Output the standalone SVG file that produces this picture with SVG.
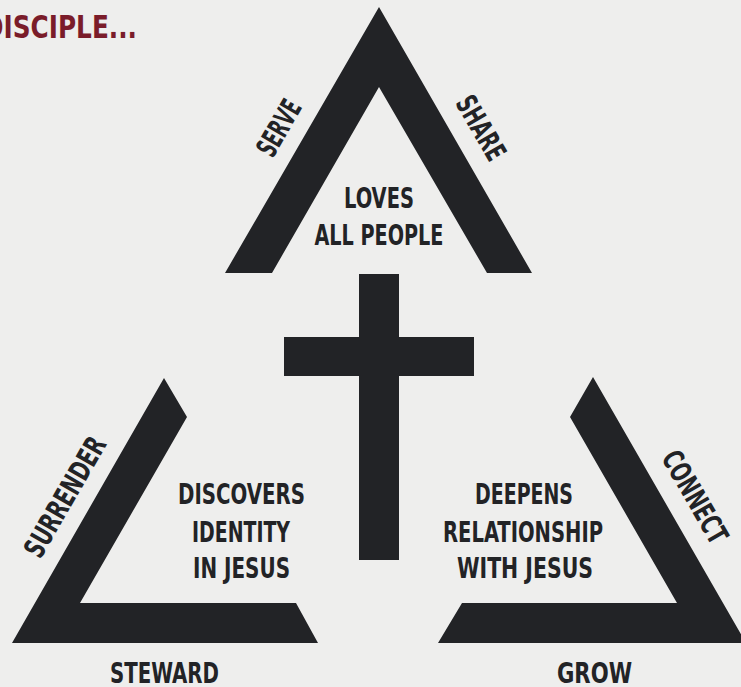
<svg xmlns="http://www.w3.org/2000/svg" width="741" height="687" viewBox="0 0 741 687">
<style>
.shape{fill:#222326}
.lbl{font-family:"DejaVu Sans Condensed","Liberation Sans Narrow","Liberation Sans",sans-serif;font-stretch:condensed;font-weight:bold;font-size:29px;fill:#222326;text-anchor:middle}
.title{font-family:"DejaVu Sans","Liberation Sans",sans-serif;font-weight:bold;font-size:32px;fill:#7a1c2a}
</style>
<rect width="741" height="687" fill="#eeeeed"/>
<text class="title" x="-17" y="38" textLength="154" lengthAdjust="spacingAndGlyphs">DISCIPLE...</text>
<g id="top">
<polygon class="shape" points="379,7 532,273 487,273 379,87 272,273 225,273"/>
<text class="lbl" x="379" y="208" textLength="70" lengthAdjust="spacingAndGlyphs">LOVES</text>
<text class="lbl" x="379" y="245" textLength="129" lengthAdjust="spacingAndGlyphs">ALL PEOPLE</text>
</g>
<g id="serve"><text class="lbl" transform="translate(279,128) rotate(-60)" y="10" textLength="60" lengthAdjust="spacingAndGlyphs">SERVE</text></g>
<g id="share"><text class="lbl" transform="translate(481,128) rotate(60)" y="10" textLength="70" lengthAdjust="spacingAndGlyphs">SHARE</text></g>
<g id="cross" class="shape">
<rect x="359" y="274" width="40" height="286"/>
<rect x="284" y="337" width="190" height="39"/>
</g>
<g id="left">
<polygon class="shape" points="164,378 187,417 80,603 296,603 318,643 12,643"/>
<text class="lbl" x="241.5" y="504" textLength="127" lengthAdjust="spacingAndGlyphs">DISCOVERS</text>
<text class="lbl" x="241" y="542" textLength="98" lengthAdjust="spacingAndGlyphs">IDENTITY</text>
<text class="lbl" x="241.5" y="578" textLength="97" lengthAdjust="spacingAndGlyphs">IN JESUS</text>
</g>
<g id="surrender"><text class="lbl" transform="translate(65,497) rotate(-60)" y="10" textLength="134" lengthAdjust="spacingAndGlyphs">SURRENDER</text></g>
<g id="steward"><text class="lbl" x="164.5" y="683" textLength="109" lengthAdjust="spacingAndGlyphs">STEWARD</text></g>
<g id="right">
<polygon class="shape" points="593,377 746,643 438,643 462,603 677,603 570,417"/>
<text class="lbl" x="524" y="504" textLength="98" lengthAdjust="spacingAndGlyphs">DEEPENS</text>
<text class="lbl" x="523" y="542" textLength="160" lengthAdjust="spacingAndGlyphs">RELATIONSHIP</text>
<text class="lbl" x="525" y="578" textLength="136" lengthAdjust="spacingAndGlyphs">WITH JESUS</text>
</g>
<g id="connect"><text class="lbl" transform="translate(695,497) rotate(60)" y="10" textLength="102" lengthAdjust="spacingAndGlyphs">CONNECT</text></g>
<g id="grow"><text class="lbl" x="594.5" y="683" textLength="75" lengthAdjust="spacingAndGlyphs">GROW</text></g>
<g id="connectors"/>
</svg>
